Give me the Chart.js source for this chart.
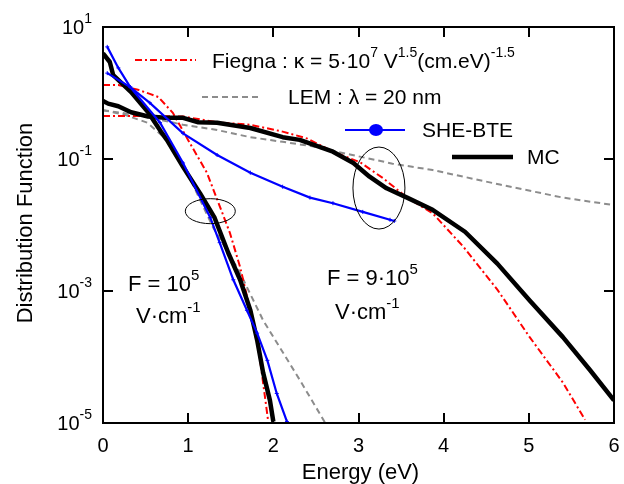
<!DOCTYPE html>
<html>
<head>
<meta charset="utf-8">
<script src="https://cdn.jsdelivr.net/npm/chart.js@4.4.1/dist/chart.umd.min.js"></script>
<style>
  html, body { margin: 0; padding: 0; background: #fff; }
  #wrap { width: 624px; height: 484px; }
</style>
</head>
<body>
<div id="wrap"><canvas id="chart" width="624" height="484"></canvas></div>
<script>
// Energy (eV) / distribution function values
const mcLowE   = [0.0, 0.08, 0.12, 0.33, 0.53, 0.68, 0.75, 0.94, 1.14, 1.31, 1.47, 1.61, 1.73, 1.81, 1.88, 1.96, 2.0];
const mcLowF   = [4.0, 2.95, 1.86, 1.03, 0.51, 0.26, 0.195, 0.076, 0.030, 0.0129, 0.0038, 0.00148, 5.1e-4, 1.8e-4, 5.8e-5, 2.2e-5, 1.05e-5];

const mcHighE  = [0.0, 0.06, 0.18, 0.33, 0.53, 0.73, 0.94, 1.12, 1.34, 1.73, 2.11, 2.31, 2.70, 2.94, 3.13, 3.33, 3.57, 3.87, 4.25, 4.63, 5.01, 5.40, 5.72, 6.0];
const mcHighF  = [0.76, 0.69, 0.63, 0.51, 0.44, 0.42, 0.42, 0.36, 0.355, 0.295, 0.214, 0.195, 0.129, 0.087, 0.054, 0.036, 0.026, 0.017, 0.0079, 0.0026, 7.2e-4, 2.0e-4, 6.3e-5, 2.2e-5];

const sheLowE  = [0.05, 0.18, 0.32, 0.67, 0.94, 1.26, 1.37, 1.53, 1.69, 1.81, 1.93, 2.04, 2.16];
const sheLowF  = [5.0, 2.4, 1.23, 0.355, 0.087, 0.0129, 0.0054, 0.00148, 5.1e-4, 2.3e-4, 8.9e-5, 2.8e-5, 1.05e-5];

const sheHighE = [0.05, 0.32, 0.55, 0.94, 1.34, 1.73, 2.11, 2.43, 2.70, 3.05, 3.37, 3.42];
const sheHighF = [2.0, 1.23, 0.71, 0.245, 0.115, 0.062, 0.038, 0.026, 0.0214, 0.0158, 0.012, 0.0115];

const fieLowE  = [0.0, 0.18, 0.41, 0.55, 0.65, 0.82, 1.02, 1.22, 1.39, 1.49, 1.61, 1.73, 1.84, 1.94];
const fieLowF  = [1.32, 1.32, 1.12, 0.97, 0.87, 0.50, 0.174, 0.062, 0.0166, 0.0076, 0.0023, 5.1e-4, 1.0e-4, 1.05e-5];

const fieHighE = [0.0, 0.47, 0.94, 1.34, 1.73, 2.11, 2.40, 2.70, 3.02, 3.29, 3.57, 3.87, 4.23, 4.63, 5.01, 5.40, 5.66];
const fieHighF = [0.45, 0.45, 0.44, 0.36, 0.33, 0.26, 0.204, 0.129, 0.089, 0.051, 0.026, 0.0151, 0.0047, 0.00105, 2.0e-4, 4.1e-5, 1.12e-5];

const lemLowE  = [0.0, 0.25, 0.52, 0.75, 0.99, 1.29, 1.59, 1.88, 2.31, 2.61];
const lemLowF  = [0.55, 0.47, 0.355, 0.195, 0.062, 0.0093, 0.0021, 3.6e-4, 4.5e-5, 1.0e-5];

const lemHighE = [0.0, 0.5, 0.94, 1.34, 1.73, 2.11, 2.43, 2.9, 3.4, 3.87, 4.66, 5.4, 6.0];
const lemHighF = [0.55, 0.44, 0.33, 0.275, 0.214, 0.182, 0.158, 0.117, 0.085, 0.068, 0.041, 0.026, 0.020];

const xTicks = [0, 1, 2, 3, 4, 5, 6];
const yTicks = [10, 0.1, 0.001, 0.00001];
const yTickExp = ['1', '-1', '-3', '-5'];

const FONT = "'Liberation Sans', Arial, sans-serif";
const RED = '#ff0000', GRAY = '#8c8c8c', BLUE = '#0000ff', BLACK = '#000000';

const pts = (xs, ys) => xs.map((x, i) => ({ x, y: ys[i] }));

// draw a run of [text, isSuperscript] pieces, returns end x
function drawRich(ctx, parts, x, y, size, measureOnly) {
    let cx = x;
    parts.forEach(([t, sup]) => {
        const s = sup ? Math.round(size * 0.68) : size;
        ctx.font = `${s}px ${FONT}`;
        if (!measureOnly) ctx.fillText(t, cx, sup ? y - size * 0.42 : y);
        cx += ctx.measureText(t).width;
    });
    return cx;
}

const decorPlugin = {
    id: 'decor',
    afterDraw(chart) {
        const { ctx, chartArea: a, scales: { x, y } } = chart;
        ctx.save();
        ctx.fillStyle = '#000';
        ctx.strokeStyle = '#000';

        // frame
        ctx.lineWidth = 2;
        ctx.strokeRect(a.left, a.top, a.right - a.left, a.bottom - a.top);

        // inward ticks
        ctx.beginPath();
        xTicks.slice(1, -1).forEach(v => {
            const px = Math.round(x.getPixelForValue(v));
            ctx.moveTo(px, a.bottom); ctx.lineTo(px, a.bottom - 10);
            ctx.moveTo(px, a.top); ctx.lineTo(px, a.top + 10);
        });
        yTicks.slice(1, -1).forEach(v => {
            const py = Math.round(y.getPixelForValue(v));
            ctx.moveTo(a.left, py); ctx.lineTo(a.left + 10, py);
            ctx.moveTo(a.right, py); ctx.lineTo(a.right - 10, py);
        });
        ctx.stroke();

        // tick labels
        ctx.textBaseline = 'middle';
        ctx.textAlign = 'center';
        ctx.font = `20px ${FONT}`;
        xTicks.forEach(v => ctx.fillText(String(v), x.getPixelForValue(v), a.bottom + 23));

        ctx.textAlign = 'left';
        yTicks.forEach((v, i) => {
            const parts = [['10', false], [yTickExp[i], true]];
            const w = drawRich(ctx, parts, 0, 0, 20, true);
            drawRich(ctx, parts, a.left - 11 - w, y.getPixelForValue(v) + 1, 20);
        });

        // axis titles
        ctx.font = `22px ${FONT}`;
        ctx.textAlign = 'center';
        ctx.fillText('Energy (eV)', (a.left + a.right) / 2 + 2, a.bottom + 50);
        ctx.save();
        ctx.translate(26, 223);
        ctx.rotate(-Math.PI / 2);
        ctx.fillText('Distribution Function', 0, 0);
        ctx.restore();

        // legend
        ctx.textAlign = 'left';
        ctx.lineWidth = 2;
        ctx.strokeStyle = RED;
        ctx.setLineDash([7, 3, 2, 3]);
        ctx.beginPath(); ctx.moveTo(135, 60); ctx.lineTo(196, 60); ctx.stroke();
        ctx.strokeStyle = GRAY;
        ctx.setLineDash([6, 4]);
        ctx.beginPath(); ctx.moveTo(202, 97); ctx.lineTo(259, 97); ctx.stroke();
        ctx.setLineDash([]);
        ctx.strokeStyle = BLUE;
        ctx.beginPath(); ctx.moveTo(345, 130); ctx.lineTo(405, 130); ctx.stroke();
        ctx.fillStyle = BLUE;
        ctx.beginPath(); ctx.ellipse(376, 130, 7, 6, 0, 0, Math.PI * 2); ctx.fill();
        ctx.strokeStyle = BLACK;
        ctx.lineWidth = 4.5;
        ctx.beginPath(); ctx.moveTo(452, 157); ctx.lineTo(513, 157); ctx.stroke();

        ctx.fillStyle = '#000';
        drawRich(ctx, [['Fiegna : \u03ba = 5\u00b710', false], ['7', true], [' V', false], ['1.5', true],
            ['(cm.eV)', false], ['-1.5', true]], 212, 62, 21);
        drawRich(ctx, [['LEM : \u03bb = 20 nm', false]], 288, 98, 21);
        drawRich(ctx, [['SHE-BTE', false]], 422, 131, 21);
        drawRich(ctx, [['MC', false]], 527, 158, 21);

        // field annotations
        drawRich(ctx, [['F = 10', false], ['5', true]], 128, 285, 22);
        drawRich(ctx, [['V\u00b7cm', false], ['-1', true]], 136, 317, 22);
        drawRich(ctx, [['F = 9\u00b710', false], ['5', true]], 327, 279, 22);
        drawRich(ctx, [['V\u00b7cm', false], ['-1', true]], 335, 313, 22);

        // ellipses marking the two field regimes
        ctx.strokeStyle = '#000';
        ctx.lineWidth = 1;
        ctx.beginPath();
        ctx.ellipse(x.getPixelForValue(1.26), y.getPixelForValue(0.0162), 25, 12.5, 0, 0, Math.PI * 2);
        ctx.stroke();
        ctx.beginPath();
        ctx.ellipse(x.getPixelForValue(3.24), y.getPixelForValue(0.0363), 26, 41, 0, 0, Math.PI * 2);
        ctx.stroke();
        ctx.restore();
    }
};

const lineBase = { fill: false, pointRadius: 0, tension: 0 };

new Chart(document.getElementById('chart'), {
    type: 'line',
    data: {
        datasets: [
            { ...lineBase, label: 'SHE-BTE', data: pts(sheLowE, sheLowF), borderColor: BLUE, borderWidth: 2.2,
              pointRadius: 2, pointStyle: 'cross', pointBorderColor: BLUE, pointBorderWidth: 1 },
            { ...lineBase, label: 'SHE-BTE high', data: pts(sheHighE, sheHighF), borderColor: BLUE, borderWidth: 2.2,
              pointRadius: 2, pointStyle: 'cross', pointBorderColor: BLUE, pointBorderWidth: 1 },
            { ...lineBase, label: 'MC', data: pts(mcLowE, mcLowF), borderColor: BLACK, borderWidth: 4.5, borderJoinStyle: 'round' },
            { ...lineBase, label: 'MC high', data: pts(mcHighE, mcHighF), borderColor: BLACK, borderWidth: 4.5, borderJoinStyle: 'round' },
            { ...lineBase, label: 'Fiegna', data: pts(fieLowE, fieLowF), borderColor: RED, borderWidth: 2, borderDash: [7, 3, 2, 3] },
            { ...lineBase, label: 'Fiegna high', data: pts(fieHighE, fieHighF), borderColor: RED, borderWidth: 2, borderDash: [7, 3, 2, 3] },
            { ...lineBase, label: 'LEM', data: pts(lemLowE, lemLowF), borderColor: GRAY, borderWidth: 2, borderDash: [6, 4] },
            { ...lineBase, label: 'LEM high', data: pts(lemHighE, lemHighF), borderColor: GRAY, borderWidth: 2, borderDash: [6, 4] }
        ]
    },
    options: {
        responsive: false,
        animation: false,
        layout: { padding: { left: 103, top: 27, right: 10, bottom: 61 } },
        plugins: { legend: { display: false }, tooltip: { enabled: false } },
        scales: {
            x: { type: 'linear', min: 0, max: 6, display: false },
            y: { type: 'logarithmic', min: 1e-5, max: 10, display: false }
        }
    },
    plugins: [decorPlugin]
});
</script>
</body>
</html>
